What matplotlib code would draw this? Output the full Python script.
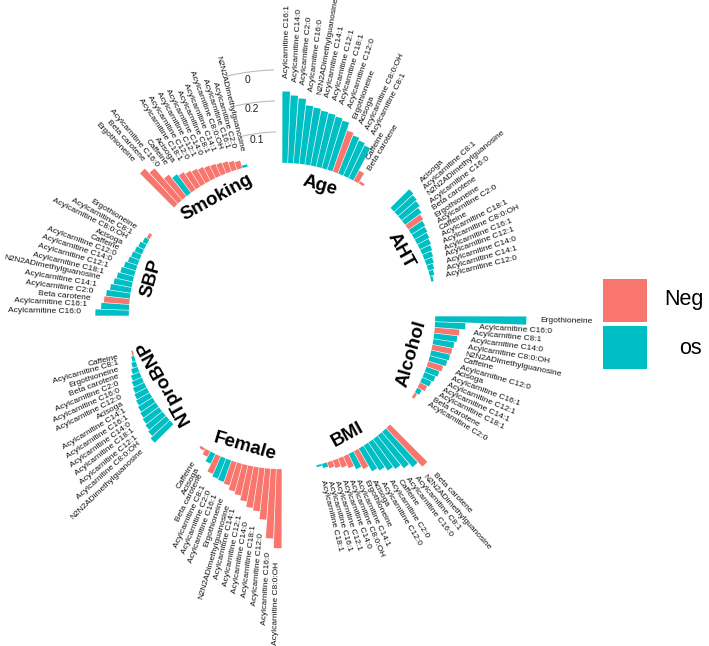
import numpy as np
import matplotlib
matplotlib.use("Agg")
import matplotlib.pyplot as plt
from matplotlib.patches import Rectangle

plt.rcParams['font.family'] = ['Liberation Sans', 'DejaVu Sans']

groups = ["Age", "AHT", "Alcohol", "BMI", "Female", "NTproBNP", "SBP", "Smoking"]

age_names = ["Acylcarnitine C16:1", "Acylcarnitine C14:0", "Acylcarnitine C2:0", "Acylcarnitine C16:0",
             "N2N2ADimethylguanosine", "Acylcarnitine C14:1", "Acylcarnitine C12:1", "Acylcarnitine C18:1",
             "Acylcarnitine C12:0", "Ergothioneine", "Acisoga", "Acylcarnitine C8:0:OH",
             "Acylcarnitine C8:1", "Caffeine", "Beta carotene"]
age_values = [0.230, 0.218, 0.210, 0.190, 0.186, 0.180, 0.177, 0.172, 0.166, 0.140, 0.132, 0.124, 0.117, 0.037, 0.008]
age_signs = ["Pos"] * 9 + ["Neg", "Pos", "Pos", "Pos", "Neg", "Neg"]

aht_names = ["Acisoga", "Acylcarnitine C8:1", "N2N2ADimethylguanosine", "Acylcarnitine C16:0",
             "Beta carotene", "Ergothioneine", "Acylcarnitine C2:0", "Caffeine", "Acylcarnitine C18:1",
             "Acylcarnitine C8:0:OH", "Acylcarnitine C16:1", "Acylcarnitine C12:1", "Acylcarnitine C14:0",
             "Acylcarnitine C14:1", "Acylcarnitine C12:0"]
aht_values = [0.085, 0.080, 0.075, 0.066, 0.058, 0.052, 0.048, 0.044, 0.040, 0.035, 0.030, 0.025, 0.020, 0.015, 0.008]
aht_signs = ["Pos"] * 4 + ["Neg"] + ["Pos"] * 10

alcohol_names = ["Ergothioneine", "Acylcarnitine C16:0", "Acylcarnitine C8:1", "Acylcarnitine C14:0",
                 "Acylcarnitine C8:0:OH", "N2N2ADimethylguanosine", "Caffeine", "Acylcarnitine C12:0",
                 "Acisoga", "Acylcarnitine C16:1", "Acylcarnitine C12:1", "Acylcarnitine C14:1",
                 "Acylcarnitine C18:1", "Beta carotene", "Acylcarnitine C2:0"]
alcohol_values = [0.294, 0.098, 0.080, 0.075, 0.068, 0.065, 0.062, 0.058, 0.050, 0.044, 0.038, 0.032, 0.026, 0.016, 0.009]
alcohol_signs = ["Pos", "Pos", "Neg", "Pos", "Pos", "Neg", "Pos", "Pos", "Neg", "Pos", "Pos", "Pos", "Neg", "Pos", "Neg"]

bmi_names = ["Beta carotene", "N2N2ADimethylguanosine", "Acylcarnitine C8:1", "Acylcarnitine C16:0",
             "Caffeine", "Acylcarnitine C2:0", "Acylcarnitine C12:0", "Acisoga", "Ergothioneine",
             "Acylcarnitine C14:1", "Acylcarnitine C8:0:OH", "Acylcarnitine C14:0", "Acylcarnitine C12:1",
             "Acylcarnitine C16:1", "Acylcarnitine C18:1"]
bmi_values = [0.170, 0.150, 0.135, 0.120, 0.110, 0.095, 0.085, 0.065, 0.055, 0.042, 0.032, 0.026, 0.020, 0.014, 0.006]
bmi_signs = ["Neg", "Pos", "Pos", "Pos", "Pos", "Pos", "Pos", "Neg", "Pos", "Neg", "Neg", "Neg", "Neg", "Pos", "Pos"]

female_names = ["Acylcarnitine C8:0:OH", "Acylcarnitine C16:0", "Acylcarnitine C12:0", "Acylcarnitine C18:1",
                "Acylcarnitine C14:0", "Acylcarnitine C12:1", "Acylcarnitine C14:1", "N2N2ADimethylguanosine",
                "Ergothioneine", "Acylcarnitine C16:1", "Acylcarnitine C2:0", "Acylcarnitine C8:1",
                "Beta carotene", "Acisoga", "Caffeine"]
female_values = [0.255, 0.224, 0.165, 0.140, 0.132, 0.115, 0.100, 0.092, 0.078, 0.073, 0.070, 0.062, 0.035, 0.020, 0.008]
female_signs = ["Neg"] * 9 + ["Pos", "Pos", "Neg", "Pos", "Neg", "Neg"]

ntprobnp_names = ["N2N2ADimethylguanosine", "Acylcarnitine C8:0:OH", "Acylcarnitine C12:1", "Acylcarnitine C18:1",
                  "Acylcarnitine C14:0", "Acylcarnitine C16:1", "Acylcarnitine C14:1", "Acisoga",
                  "Acylcarnitine C12:0", "Acylcarnitine C16:0", "Acylcarnitine C2:0", "Beta carotene",
                  "Ergothioneine", "Acylcarnitine C8:1", "Caffeine"]
ntprobnp_values = [0.085, 0.076, 0.070, 0.065, 0.060, 0.055, 0.050, 0.045, 0.040, 0.035, 0.030, 0.022, 0.015, 0.010, 0.005]
ntprobnp_signs = ["Pos"] * 14 + ["Neg"]

sbp_names = ["Acylcarnitine C16:0", "Acylcarnitine C16:1", "Beta carotene", "Acylcarnitine C2:0",
             "Acylcarnitine C14:1", "N2N2ADimethylguanosine", "Acylcarnitine C18:1", "Acylcarnitine C12:1",
             "Acylcarnitine C14:0", "Acylcarnitine C12:0", "Caffeine", "Acisoga", "Acylcarnitine C8:0:OH",
             "Acylcarnitine C8:1", "Ergothioneine"]
sbp_values = [0.108, 0.090, 0.082, 0.077, 0.067, 0.059, 0.053, 0.046, 0.040, 0.033, 0.029, 0.025, 0.021, 0.015, 0.010]
sbp_signs = ["Pos", "Pos", "Neg"] + ["Pos"] * 11 + ["Neg"]

smoking_names = ["Ergothioneine", "Beta carotene", "Acylcarnitine C16:0", "Caffeine", "Acisoga",
                 "Acylcarnitine C18:1", "Acylcarnitine C12:0", "Acylcarnitine C12:1", "Acylcarnitine C14:0",
                 "Acylcarnitine C8:1", "Acylcarnitine C14:1", "Acylcarnitine C8:0:OH", "Acylcarnitine C16:1",
                 "Acylcarnitine C2:0", "N2N2ADimethylguanosine"]
smoking_values = [0.155, 0.135, 0.090, 0.075, 0.068, 0.060, 0.055, 0.050, 0.045, 0.042, 0.038, 0.035, 0.030, 0.025, 0.008]
smoking_signs = ["Neg", "Neg", "Neg", "Pos", "Neg", "Neg", "Neg", "Neg", "Neg", "Neg", "Neg", "Neg", "Neg", "Neg", "Pos"]

grid_values = [0.1, 0.2, 0.3]
grid_labels = ["0", "0.2", "0.1"]
grid_label_r = [0.276, 0.18, 0.08]

legend_labels = ["Neg", "os"]

group_data = [
    (age_names, age_values, age_signs),
    (aht_names, aht_values, aht_signs),
    (alcohol_names, alcohol_values, alcohol_signs),
    (bmi_names, bmi_values, bmi_signs),
    (female_names, female_values, female_signs),
    (ntprobnp_names, ntprobnp_values, ntprobnp_signs),
    (sbp_names, sbp_values, sbp_signs),
    (smoking_names, smoking_values, smoking_signs),
]

colors = {"Neg": "#F8766D", "Pos": "#00BFC4"}
n_empty = 6
n_per = 15
n_slots = len(groups) * (n_per + n_empty)
step = 2 * np.pi / n_slots

W, H = 709, 646
fig = plt.figure(figsize=(W / 100, H / 100), dpi=100)
cx, cy, R = 282, 316, 280
ax = fig.add_axes([(cx - R) / W, (H - cy - R) / H, 2 * R / W, 2 * R / H], projection='polar')
ax.set_theta_zero_location('N')
ax.set_theta_direction(-1)
ax.set_ylim(-0.494, 0.409)
ax.grid(False)
ax.set_xticks([])
ax.set_yticks([])
ax.spines['polar'].set_visible(False)

for g, (names, vals, signs) in enumerate(group_data):
    slots = g * (n_per + n_empty) + np.arange(len(vals))
    thetas = (slots + 0.5) * step
    ax.bar(thetas, vals, width=step * 0.9, bottom=0,
           color=[colors[s] for s in signs], edgecolor='none')
    for th, v, nm in zip(thetas, vals, names):
        deg = np.degrees(th)
        if deg < 180:
            rot, ha = 90 - deg, 'left'
        else:
            rot, ha = 270 - deg, 'right'
        ax.text(th, v + 0.045, nm, rotation=rot, rotation_mode='anchor',
                ha=ha, va='center', fontsize=6.0, color='#111111')
    mid = np.degrees(thetas.mean())
    if mid < 90:
        grot = -mid
    elif mid < 225:
        grot = 180 - mid
    else:
        grot = 360 - mid
    ax.text(np.radians(mid), -0.057, groups[g], rotation=grot, rotation_mode='anchor',
            ha='center', va='center', fontsize=13.5, fontweight='bold', color='black')

th_arc = np.radians(np.linspace(-13, -2, 40))
for gv in grid_values:
    ax.plot(th_arc, np.full_like(th_arc, gv), color='#BDBDBD', lw=0.8)
for lab, r in zip(grid_labels, grid_label_r):
    ax.text(np.radians(-8.2), r, lab, ha='center', va='center', fontsize=7.5, color='#222222')

# legend
fig.patches.append(Rectangle((603 / W, 1 - 322 / H), 44 / W, 43 / H, transform=fig.transFigure,
                             facecolor=colors["Neg"], edgecolor='none'))
fig.patches.append(Rectangle((603 / W, 1 - 369 / H), 44 / W, 43 / H, transform=fig.transFigure,
                             facecolor=colors["Pos"], edgecolor='none'))
fig.text(664 / W, 1 - 300 / H, legend_labels[0], ha='left', va='center', fontsize=15.5)
fig.text(679 / W, 1 - 348 / H, legend_labels[1], ha='left', va='center', fontsize=15.5)

fig.savefig("out.png", dpi=100, facecolor='white')
